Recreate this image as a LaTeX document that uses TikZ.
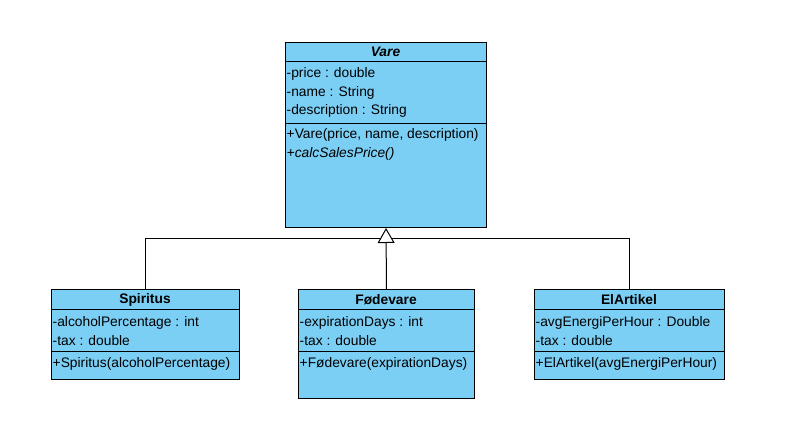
\documentclass[tikz,border=0pt]{standalone}
\usepackage{fontspec}
\setmainfont{Liberation Sans}
\usetikzlibrary{arrows.meta}
\definecolor{classblue}{RGB}{123,207,245}
\tikzset{
  classbox/.style={draw=black, fill=classblue, line width=1pt, inner sep=0pt, anchor=north west},
  sepline/.style={draw=black, line width=1pt},
  member/.style={inner sep=0pt, anchor=west, font=\fontsize{13.8}{16}\selectfont},
  title/.style={inner sep=0pt, anchor=center, font=\fontsize{13.8}{16}\selectfont\bfseries},
  conn/.style={draw=black, line width=1pt},
  inherit/.style={conn, -{Triangle[length=15pt, width=17pt, fill=white, line width=1pt]}}
}
\begin{document}
\begin{tikzpicture}[x=1pt, y=-1pt]
\useasboundingbox (0,0) rectangle (785,428);
\fill[white] (0,0) rectangle (785,428);

% Vare
\node[classbox, minimum width=201pt, minimum height=185pt] (vare) at (285,42) {};
\draw[sepline] (285,62) -- (486,62);
\draw[sepline] (285,123) -- (486,123);
\node[title, font=\fontsize{13.8}{16}\selectfont\bfseries\itshape] (varet) at (385.5,52) {Vare};
\node[member] (va1) at (286.5,74) {-price : double};
\node[member] (va2) at (286.5,92.5) {-name : String};
\node[member] (va3) at (286.5,111) {-description : String};
\node[member] (vm1) at (286.5,135) {+Vare(price, name, description)};
\node[member] (vm2) at (286.5,154) {\itshape +calcSalesPrice()};

% Spiritus
\node[classbox, minimum width=188pt, minimum height=90pt] (spir) at (51,289) {};
\draw[sepline] (51,309) -- (239,309);
\draw[sepline] (51,351) -- (239,351);
\node[title] (spirt) at (145,300) {Spiritus};
\node[member] (sa1) at (52.5,322.5) {-alcoholPercentage : int};
\node[member] (sa2) at (52.5,341) {-tax : double};
\node[member] (sm1) at (52.5,363.5) {+Spiritus(alcoholPercentage)};

% Fodevare
\node[classbox, minimum width=176pt, minimum height=109pt] (fode) at (298,289) {};
\draw[sepline] (298,309) -- (474,309);
\draw[sepline] (298,351) -- (474,351);
\node[title] (fodet) at (386,300) {Fødevare};
\node[member] (fa1) at (299.5,322.5) {-expirationDays : int};
\node[member] (fa2) at (299.5,341) {-tax : double};
\node[member] (fm1) at (299.5,363.5) {+Fødevare(expirationDays)};

% ElArtikel
\node[classbox, minimum width=190pt, minimum height=90pt] (elart) at (534,289) {};
\draw[sepline] (534,309) -- (724,309);
\draw[sepline] (534,351) -- (724,351);
\node[title] (elartt) at (629,300) {ElArtikel};
\node[member] (ea1) at (535.5,322.5) {-avgEnergiPerHour : Double};
\node[member] (ea2) at (535.5,341) {-tax : double};
\node[member] (em1) at (535.5,363.5) {+ElArtikel(avgEnergiPerHour)};

% connectors
\coordinate (bus) at (386,238.5);
\draw[conn] (spir.north) |- (bus) -| (elart.north);
\draw[inherit] (fode.north) -- (vare.south);
\end{tikzpicture}
\end{document}
